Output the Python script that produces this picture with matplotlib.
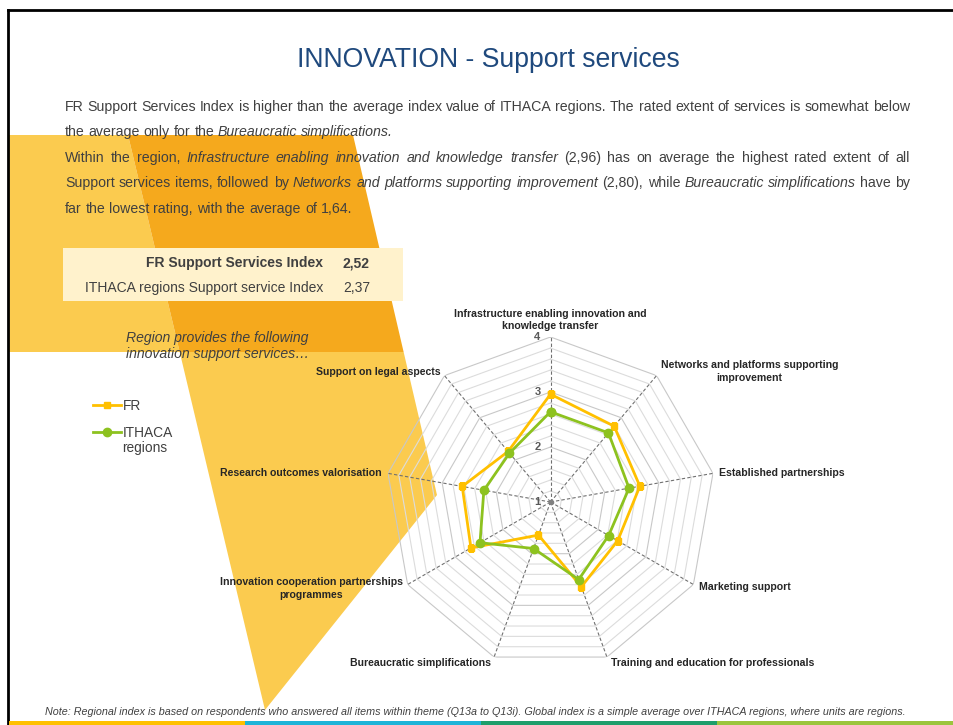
import numpy as np
import matplotlib.pyplot as plt
from matplotlib.patches import Polygon, Rectangle

# ---------------- data ----------------
categories = [
    "Infrastructure enabling innovation and\nknowledge transfer",
    "Networks and platforms supporting\nimprovement",
    "Established partnerships",
    "Marketing support",
    "Training and education for professionals",
    "Bureaucratic simplifications",
    "Innovation cooperation partnerships\nprogrammes",
    "Research outcomes valorisation",
    "Support on legal aspects",
]
fr_values = [2.96, 2.80, 2.65, 2.41, 2.64, 1.64, 2.67, 2.63, 2.20]
ithaca_values = [2.64, 2.64, 2.45, 2.22, 2.50, 1.90, 2.48, 2.23, 2.16]
levels = [1, 2, 3, 4]
series_names = ["FR", "ITHACA"]
index_rows = ["FR Support Services Index", "ITHACA regions Support service Index"]
index_values = ["2,52", "2,37"]

title = "INNOVATION - Support services"
body_lines = [
    ("FR Support Services Index is higher than the average index value of ITHACA regions. The rated extent of services is somewhat below", True),
    ("the average only for the *Bureaucratic simplifications.*", False),
    ("Within the region, *Infrastructure enabling innovation and knowledge transfer* (2,96) has on average the highest rated extent of all", True),
    ("Support services items, followed by *Networks and platforms supporting improvement* (2,80), while *Bureaucratic simplifications* have by", True),
    ("far the lowest rating, with the average of 1,64.", False),
]
note = ("Note: Regional index is based on respondents who answered all items within theme (Q13a to Q13i). "
        "Global index is a simple average over ITHACA regions, where units are regions.")

# ---------------- styles ----------------
TXT = "#404040"
FR_COL = "#FFC000"
GR_COL = "#8DC21F"
LIGHT_Y = "#FBCB4F"
DARK_Y = "#F5A91D"
FONT = "Liberation Sans"
plt.rcParams["font.family"] = [FONT, "DejaVu Sans"]

W, H = 954, 725
fig = plt.figure(figsize=(W / 100, H / 100), dpi=100)
bg = fig.add_axes([0, 0, 1, 1])
bg.set_xlim(0, W)
bg.set_ylim(H, 0)
bg.axis("off")

# decorative background shapes (slide design)
def xl(y):
    return 128 + (265 - 128) * (y - 135) / (710 - 135)

def xr(y):
    return 353 + (437 - 353) * (y - 135) / (495 - 135)

bg.add_patch(Polygon([(8, 135), (128, 135), (xl(352), 352), (8, 352)], closed=True, color=LIGHT_Y, lw=0, zorder=0))
bg.add_patch(Polygon([(128, 135), (353, 135), (xr(352), 352), (xl(352), 352)], closed=True, color=DARK_Y, lw=0, zorder=0))
bg.add_patch(Polygon([(xl(352), 352), (xr(352), 352), (437, 495), (265, 710)], closed=True, color=LIGHT_Y, lw=0, zorder=0))
bg.add_patch(Rectangle((63, 248), 340, 53, color="#FFF2CC", lw=0, zorder=1))

# frame and bottom stripe
bg.plot([8, 8], [10, H], color="black", lw=2, zorder=5)
bg.plot([8, W], [10, 10], color="black", lw=2, zorder=5)
stripe_cols = ["#FFC000", "#1DB4D8", "#1E9E6B", "#9BC53C"]
for i, c in enumerate(stripe_cols):
    bg.add_patch(Rectangle((9 + i * 236, 721), 236, 4, color=c, lw=0, zorder=5))

# title
bg.text(488, 60, title, fontsize=19.2, color="#1F497D", ha="center", va="center")

# justified body text
FS = 10.2
renderer = fig.canvas.get_renderer()
X0, X1 = 65, 910


def parse(line):
    words, cur, buf, ital = [], [], "", False
    for ch in line:
        if ch == "*":
            if buf:
                cur.append((buf, ital))
                buf = ""
            ital = not ital
        elif ch == " ":
            if buf:
                cur.append((buf, ital))
                buf = ""
            if cur:
                words.append(cur)
                cur = []
        else:
            buf += ch
    if buf:
        cur.append((buf, ital))
    if cur:
        words.append(cur)
    return words


t1 = bg.text(0, -50, "a a", fontsize=FS)
t2 = bg.text(0, -50, "aa", fontsize=FS)
space_w = t1.get_window_extent(renderer).width - t2.get_window_extent(renderer).width
t1.remove()
t2.remove()

line_y = [107, 132, 158, 183, 209]
for (line, justify), y in zip(body_lines, line_y):
    words = parse(line)
    arts, widths = [], []
    for w in words:
        parts, wd = [], 0
        for s, it in w:
            t = bg.text(0, y, s, fontsize=FS, style="italic" if it else "normal",
                        color=TXT, ha="left", va="center", zorder=3)
            e = t.get_window_extent(renderer).width
            parts.append((t, e))
            wd += e
        arts.append(parts)
        widths.append(wd)
    gap = (X1 - X0 - sum(widths)) / (len(words) - 1) if justify else space_w
    x = X0
    for parts, wd in zip(arts, widths):
        xx = x
        for t, e in parts:
            t.set_x(xx)
            xx += e
        x += wd + gap

# index table
for i, (lab, val) in enumerate(zip(index_rows, index_values)):
    y = 263 + i * 25
    weight = "bold" if i == 0 else "normal"
    bg.text(323, y, lab, fontsize=10, fontweight=weight, color=TXT, ha="right", va="center", zorder=3)
    bg.text(343, y, val, fontsize=10, fontweight=weight, color=TXT, ha="left", va="center", zorder=3)

bg.text(126, 346, "Region provides the following\ninnovation support services…", fontsize=10.1,
        style="italic", color=TXT, ha="left", va="center", linespacing=1.2, zorder=3)

bg.text(475, 712, note, fontsize=7.75, style="italic", color=TXT, ha="center", va="center", zorder=3)

# ---------------- radar ----------------
cx, cy, R = 550.5, 502, 165
ax = fig.add_axes([(cx - R) / W, 1 - (cy + R) / H, 2 * R / W, 2 * R / H], projection="polar")
ax.patch.set_alpha(0)
ax.set_theta_offset(np.pi / 2)
ax.set_theta_direction(-1)
ax.set_ylim(1, 4)
ax.set_xticks([])
ax.set_yticks([])
ax.grid(False)
ax.spines["polar"].set_visible(False)

n = len(categories)
theta = np.arange(n) * 2 * np.pi / n
theta_c = np.append(theta, theta[0])

for r in np.arange(1.2, 4.01, 0.2):
    major = abs(r - round(r)) < 1e-6
    ax.plot(theta_c, [r] * (n + 1), color="#C8C8C8" if major else "#DCDCDC", lw=0.8, zorder=1)
for th in theta:
    ax.plot([th, th], [1, 4], color="#707070", lw=0.8, ls=(0, (3, 2)), zorder=2)
ax.plot([0], [1], marker="o", color="#808080", ms=3, zorder=2)

ax.plot(theta_c, fr_values + fr_values[:1], color=FR_COL, lw=2, marker="s", ms=4.5,
        label=series_names[0], zorder=4)
ax.plot(theta_c, ithaca_values + ithaca_values[:1], color=GR_COL, lw=2, marker="o", ms=6,
        label=series_names[1], zorder=5)

for lv in levels:
    ax.annotate(str(lv), xy=(0, lv), xytext=(-10, 0), textcoords="offset pixels",
                fontsize=8, fontweight="bold", color="#595959", ha="right", va="center")

label_place = [
    ("center", "bottom", 0, 6),
    ("left", "center", 4, 4),
    ("left", "center", 6, 0),
    ("left", "center", 6, -2),
    ("left", "center", 4, -6),
    ("right", "center", -3, -6),
    ("right", "center", -5, -4),
    ("right", "center", -6, 0),
    ("right", "center", -4, 4),
]
for th, lab, (ha, va, dx, dy) in zip(theta, categories, label_place):
    ax.annotate(lab, xy=(th, 4), xytext=(dx, dy), textcoords="offset pixels",
                fontsize=7.6, fontweight="bold", color="#262626", ha=ha, va=va,
                multialignment="center", linespacing=1.3, annotation_clip=False)

# legend
leg = fig.legend(loc="upper left", bbox_to_anchor=(93 / W, 1 - 399 / H), frameon=False,
                 fontsize=9.9, handlelength=2.0, handletextpad=0.15, labelspacing=0.95,
                 borderaxespad=0, borderpad=0)
for t in leg.get_texts():
    t.set_color(TXT)
bg.text(122, 448, "regions", fontsize=9.9, color=TXT, ha="left", va="center")

fig.savefig("out.png", dpi=100)
